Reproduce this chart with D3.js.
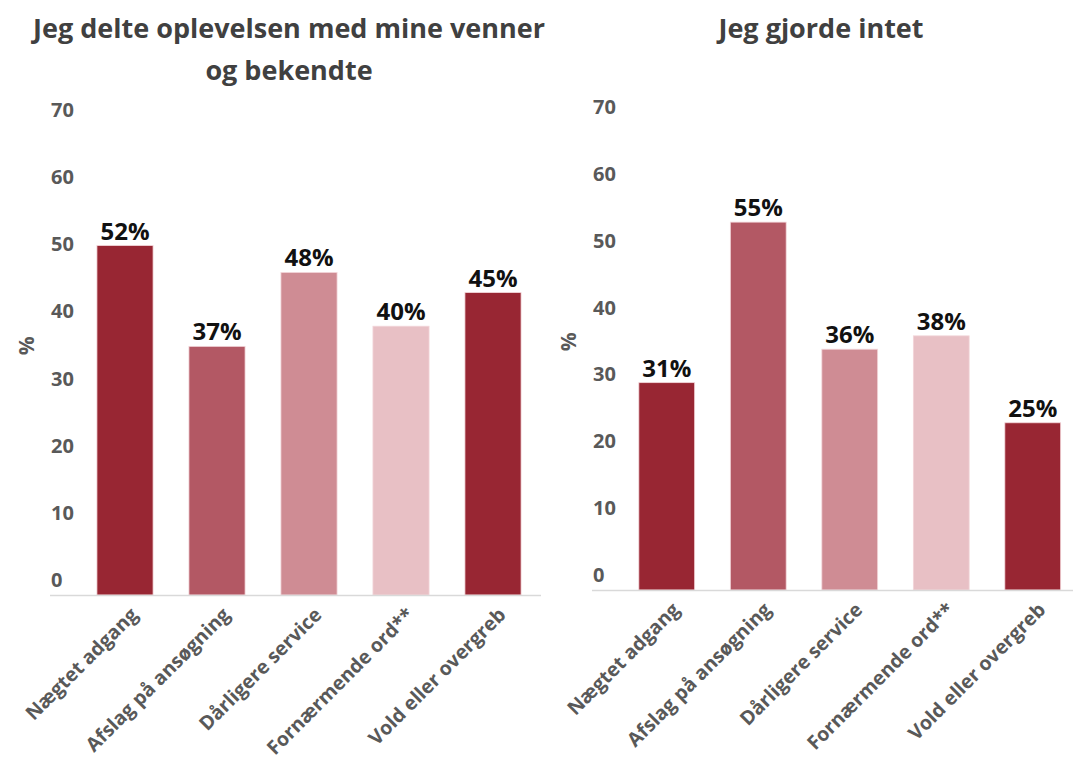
<!DOCTYPE html>
<html>
<head>
<meta charset="utf-8">
<script src="https://cdn.jsdelivr.net/npm/d3@7"></script>
<style>
  html, body { margin: 0; padding: 0; background: #fff; }
  svg { display: block; }
  text { font-family: "Open Sans", "Noto Sans", sans-serif; }
</style>
</head>
<body>
<svg id="chart" width="1073" height="767"></svg>
<script>
// Categories shared by both panels
const categories = [
  "Nægtet adgang",
  "Afslag på ansøgning",
  "Dårligere service",
  "Fornærmende ord**",
  "Vold eller overgreb"
];

// Share (%) per category
const sharedValues = [52, 37, 48, 40, 45];
const nothingValues = [31, 55, 36, 38, 25];

const barColors = ["#982633", "#b35864", "#cf8c94", "#e8c0c5", "#982633"];
const yTicks = [0, 10, 20, 30, 40, 50, 60, 70];

const panels = [
  {
    title: ["Jeg delte oplevelsen med mine venner", "og bekendte"],
    titleX: 289,
    values: sharedValues,
    baseY: 595, topY: 124.6,
    band: [79, 539],
    axisX: [50, 541],
    tickX: 51,
    percentX: 26
  },
  {
    title: ["Jeg gjorde intet"],
    titleX: 821,
    values: nothingValues,
    baseY: 590, topY: 121.8,
    band: [621, 1078.5],
    axisX: [592, 1073],
    tickX: 593,
    percentX: 568
  }
];

const svg = d3.select("#chart");
const fontStack = "\"Open Sans\", \"Noto Sans\", sans-serif";

panels.forEach(p => {
  const g = svg.append("g");

  const x = d3.scaleBand()
    .domain(categories)
    .range(p.band)
    .paddingInner(0.39)
    .paddingOuter(0.195);

  const y = d3.scaleLinear()
    .domain([0, 70])
    .range([p.baseY, p.topY]);

  // Title
  g.append("text")
    .attr("x", p.titleX)
    .attr("y", 38)
    .attr("text-anchor", "middle")
    .attr("font-size", 27)
    .attr("font-weight", 700)
    .attr("fill", "#404040")
    .selectAll("tspan")
    .data(p.title)
    .join("tspan")
    .attr("x", p.titleX)
    .attr("dy", (d, i) => i === 0 ? 0 : 42)
    .text(d => d);

  // Y tick labels, sitting just above their gridline position
  const yAxis = d3.axisLeft(y).tickValues(yTicks).tickSize(0).tickFormat(d3.format("d"));
  const ya = g.append("g").call(yAxis);
  ya.select(".domain").remove();
  ya.selectAll("text")
    .attr("x", p.tickX)
    .attr("dy", "-0.42em")
    .attr("text-anchor", "start")
    .attr("font-size", 20)
    .attr("font-weight", 700)
    .attr("fill", "#595959")
    .style("font-family", fontStack);

  // Y axis title
  g.append("text")
    .attr("transform", `translate(${p.percentX},${(p.baseY + p.topY) / 2 - 14}) rotate(-90)`)
    .attr("text-anchor", "middle")
    .attr("dominant-baseline", "central")
    .attr("font-size", 21)
    .attr("font-weight", 700)
    .attr("fill", "#595959")
    .text("%");

  // Bars
  g.selectAll("rect.bar")
    .data(p.values)
    .join("rect")
    .attr("class", "bar")
    .attr("x", (d, i) => x(categories[i]))
    .attr("width", x.bandwidth())
    .attr("y", d => y(d))
    .attr("height", d => y(0) - y(d))
    .attr("fill", (d, i) => barColors[i])
    .attr("stroke", "#f3d6da")
    .attr("stroke-width", 0.8);

  // Value labels
  g.selectAll("text.val")
    .data(p.values)
    .join("text")
    .attr("class", "val")
    .attr("x", (d, i) => x(categories[i]) + x.bandwidth() / 2)
    .attr("y", d => y(d) - 6)
    .attr("text-anchor", "middle")
    .attr("font-size", 24)
    .attr("font-weight", 700)
    .attr("fill", "#111")
    .text(d => d + "%");

  // Baseline
  g.append("line")
    .attr("x1", p.axisX[0]).attr("x2", p.axisX[1])
    .attr("y1", y(0) + 0.5).attr("y2", y(0) + 0.5)
    .attr("stroke", "#d9d9d9")
    .attr("stroke-width", 1.5);

  // Category labels, rotated 45°
  const xAxis = d3.axisBottom(x).tickSize(0);
  const xa = g.append("g")
    .attr("transform", `translate(0,${y(0)})`)
    .call(xAxis);
  xa.select(".domain").remove();
  xa.selectAll("text")
    .attr("x", 0)
    .attr("y", 0)
    .attr("dy", 0)
    .attr("transform", "translate(14,21) rotate(-45)")
    .attr("text-anchor", "end")
    .attr("font-size", 19.5)
    .attr("font-weight", 700)
    .attr("fill", "#595959")
    .style("font-family", fontStack);
});
</script>
</body>
</html>
